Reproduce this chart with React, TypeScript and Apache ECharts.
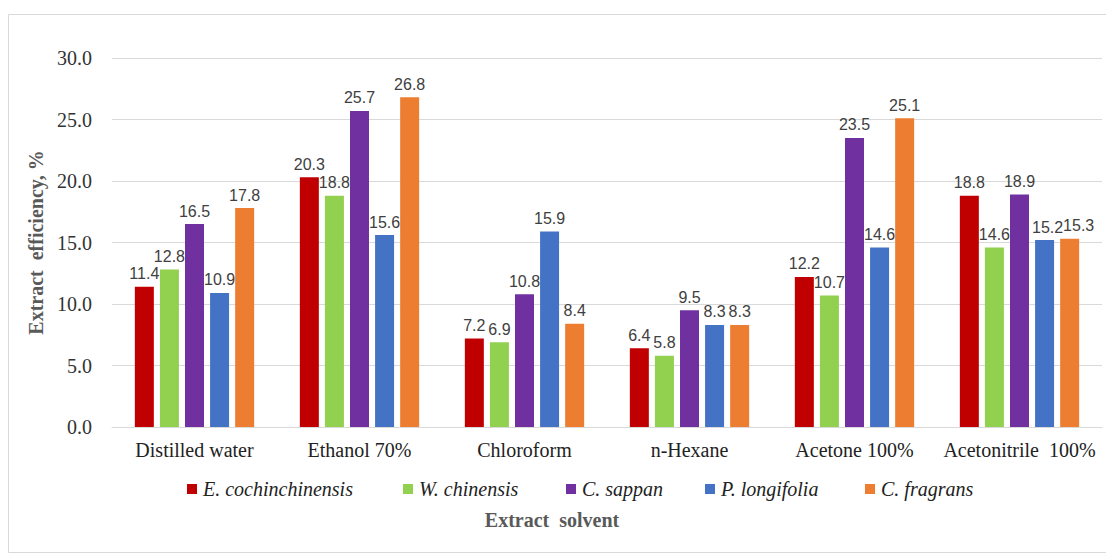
import React, { useEffect, useRef } from "react";
import * as echarts from "echarts";

const solvents = [
  "Distilled water",
  "Ethanol 70%",
  "Chloroform",
  "n-Hexane",
  "Acetone 100%",
  "Acetonitrile  100%",
];

const species = [
  "E. cochinchinensis",
  "W. chinensis",
  "C. sappan",
  "P. longifolia",
  "C. fragrans",
];

const eCochinchinensis = [11.4, 20.3, 7.2, 6.4, 12.2, 18.8];
const wChinensis = [12.8, 18.8, 6.9, 5.8, 10.7, 14.6];
const cSappan = [16.5, 25.7, 10.8, 9.5, 23.5, 18.9];
const pLongifolia = [10.9, 15.6, 15.9, 8.3, 14.6, 15.2];
const cFragrans = [17.8, 26.8, 8.4, 8.3, 25.1, 15.3];

const yTicks = { min: 0, max: 30, interval: 5 };

const colors = ["#C00000", "#92D050", "#7030A0", "#4472C4", "#ED7D31"];

// left edge of each legend entry
const legendLefts = [182, 398, 561, 700, 860];

// nudges for crowded value labels: "seriesIndex-categoryIndex" -> [dx, dy]
const labelNudges: Record<string, [number, number]> = {
  "3-5": [3, 0],
  "4-5": [9, 0],
};

const serif = "'Liberation Serif', 'DejaVu Serif', serif";
const sans = "'Liberation Sans', 'DejaVu Sans', sans-serif";

export default function App() {
  const ref = useRef<HTMLDivElement>(null);

  useEffect(() => {
    if (!ref.current) return;
    const chart = echarts.init(ref.current, null, { renderer: "svg" });
    const values = [eCochinchinensis, wChinensis, cSappan, pLongifolia, cFragrans];

    chart.setOption({
      animation: false,
      backgroundColor: "#ffffff",
      color: colors,
      grid: { left: 112, right: 4, top: 58, bottom: 129, containLabel: false },
      legend: species.map((name, i) => ({
        data: [name],
        left: legendLefts[i],
        top: 474,
        itemWidth: 10,
        itemHeight: 10,
        icon: "rect",
        selectedMode: false,
        textStyle: {
          fontFamily: serif,
          fontStyle: "italic",
          fontSize: 20,
          color: "#222",
          padding: [0, 0, 0, 1],
        },
      })),
      xAxis: {
        type: "category",
        data: solvents,
        axisLine: { lineStyle: { color: "#d9d9d9", width: 1 } },
        axisTick: { show: false },
        axisLabel: {
          fontFamily: serif,
          fontSize: 20,
          color: "#222",
          margin: 13,
          interval: 0,
        },
      },
      yAxis: {
        type: "value",
        min: yTicks.min,
        max: yTicks.max,
        interval: yTicks.interval,
        name: "Extract  efficiency, %",
        nameLocation: "middle",
        nameGap: 66,
        nameTextStyle: {
          fontFamily: serif,
          fontWeight: "bold",
          fontSize: 20,
          color: "#595959",
        },
        axisLine: { show: false },
        axisTick: { show: false },
        splitLine: { lineStyle: { color: "#d9d9d9", width: 1 } },
        axisLabel: {
          fontFamily: serif,
          fontSize: 20,
          color: "#333",
          margin: 20,
          formatter: (v: number) => v.toFixed(1),
        },
      },
      graphic: [
        {
          type: "rect",
          silent: true,
          shape: { x: 8.5, y: 14.5, width: 1120, height: 538 },
          style: { fill: "none", stroke: "#d9d9d9", lineWidth: 1 },
          z: -1,
        },
        {
          type: "text",
          x: 552,
          y: 520,
          style: {
            text: "Extract  solvent",
            fontFamily: serif,
            fontWeight: "bold",
            fontSize: 20,
            fill: "#595959",
            align: "center",
            verticalAlign: "middle",
          },
        },
      ],
      series: species.map((name, i) => ({
        name,
        type: "bar",
        data: values[i].map((v, j) => {
          const nudge = labelNudges[`${i}-${j}`];
          return nudge ? { value: v, label: { offset: nudge } } : v;
        }),
        barWidth: 19,
        barGap: "32%",
        label: {
          show: true,
          position: "top",
          distance: 5,
          fontFamily: sans,
          fontSize: 16,
          color: "#404040",
          formatter: (p: any) => Number(p.value).toFixed(1),
        },
      })),
    });

    return () => chart.dispose();
  }, []);

  return (
    <div
      ref={ref}
      style={{ position: "fixed", left: 0, top: 0, width: 1106, height: 556 }}
    />
  );
}
